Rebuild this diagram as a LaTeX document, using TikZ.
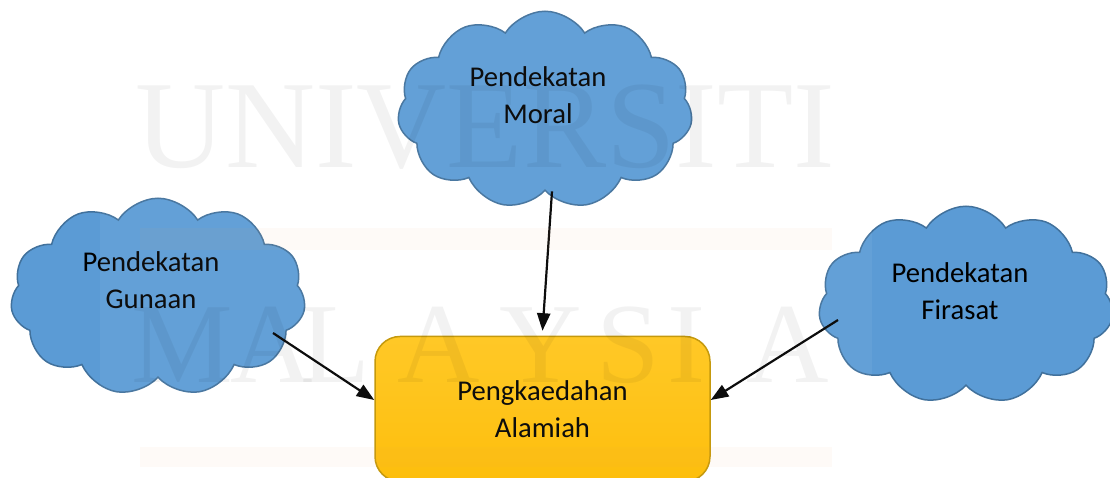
\documentclass[tikz,border=0pt]{standalone}
\usepackage{fontspec}
\setmainfont{Carlito}
\newfontfamily\wmfont{Liberation Serif}
\usetikzlibrary{shapes.symbols,arrows.meta}
\definecolor{awanfill}{HTML}{5B9BD5}
\definecolor{awanline}{HTML}{41719C}
\definecolor{emastop}{HTML}{FFC61C}
\definecolor{emasbot}{HTML}{FDBB00}
\definecolor{emasline}{HTML}{C29400}
\definecolor{wmorange}{HTML}{F4A460}
\begin{document}
\begin{tikzpicture}[
    awan/.style={cloud, cloud puffs=11, cloud puff arc=115, aspect=1.5,
        draw=awanline, fill=awanfill, line width=0.85pt,
        minimum width=5.9cm, minimum height=3.95cm, inner sep=0pt},
    teks/.style={align=center, font=\fontsize{16.3}{21}\selectfont},
    kotak/.style={rectangle, rounded corners=0.5cm, draw=emasline,
        top color=emastop, bottom color=emasbot, line width=0.85pt,
        minimum width=6.7cm, minimum height=2.9cm, teks},
    panah/.style={-{Triangle[length=10pt,width=7.5pt]}, line width=1.25pt},
    wm/.style={font=\wmfont\fontsize{71}{71}\selectfont, text=black, opacity=0.05, anchor=base}
]
    \useasboundingbox (0,0) rectangle (22.2,9.56);
    \clip (0,0) rectangle (22.2,9.56);

    % clouds
    \node [awan] (moral) at (10.9,7.36) {};
    \node [teks] (moraltext) at ([xshift=-0.14cm,yshift=0.3cm]moral.center) {Pendekatan\\Moral};
    \node [awan] (gunaan) at (3.16,3.62) {};
    \node [teks] (gunaantext) at ([xshift=-0.14cm,yshift=0.34cm]gunaan.center) {Pendekatan\\Gunaan};
    \node [awan] (firasat) at (19.32,3.46) {};
    \node [teks] (firasattext) at ([xshift=-0.12cm,yshift=0.28cm]firasat.center) {Pendekatan\\Firasat};

    % target box
    \node [kotak] (alam) at (10.85,1.38) {Pengkaedahan\\Alamiah};

    \draw [panah] ([xshift=0.14cm]moral.south) -- ([yshift=0.1cm]alam.north);
    \draw [panah] ([shift={(2.3,-0.72)}]gunaan.center) -- ([yshift=0.18cm]alam.west);
    \draw [panah] ([shift={(-2.56,-0.3)}]firasat.center) -- ([yshift=0.18cm]alam.east);

    % watermark
    \fill [white, opacity=0.05] (2.0,0) rectangle (17.44,9.56);
    \fill [wmorange, opacity=0.05] (2.8,4.56) rectangle (16.64,5.0);
    \fill [wmorange, opacity=0.05] (2.8,0.22) rectangle (16.64,0.62);
    \node [wm] (wmtop) at (9.7,6.2) {UNIVERSITI};
    \foreach \x/\ch [count=\i] in {3.64/M,5.44/A,6.7/L,8.78/A,10.82/Y,12.56/S,13.74/I,15.76/A}
        \node [wm, font=\wmfont\fontsize{65}{65}\selectfont] (wmbot\i) at (\x,1.9) {\ch};
\end{tikzpicture}
\end{document}
